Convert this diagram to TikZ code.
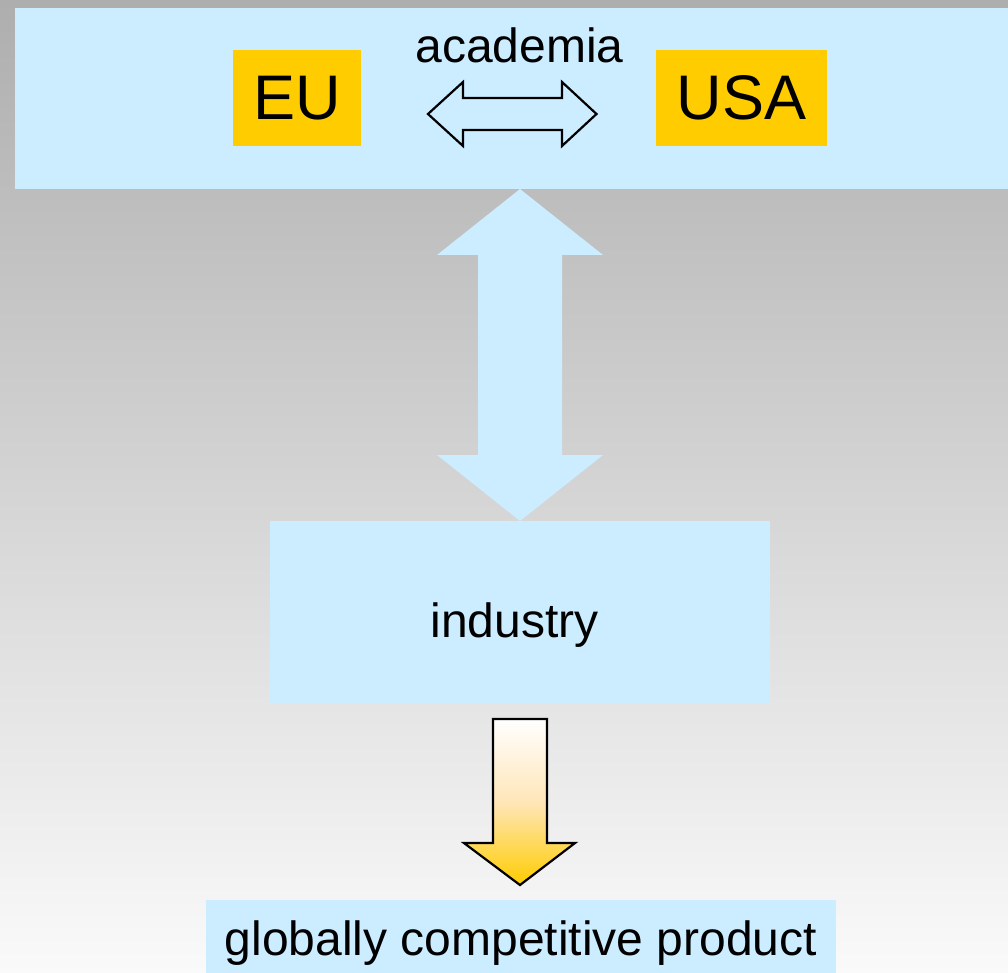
\documentclass[tikz,border=0pt]{standalone}
\usepackage{fontspec}
\setmainfont{Liberation Sans}
\usetikzlibrary{calc}
\definecolor{bgtop}{HTML}{AEAEAE}
\definecolor{bgbot}{HTML}{FAFAFA}
\definecolor{lblue}{HTML}{CCECFF}
\definecolor{gold}{HTML}{FFCC00}
\definecolor{peach}{HTML}{FFE6B8}
\begin{document}
\begin{tikzpicture}[x=1pt,y=-1pt,
  panel/.style={fill=lblue, draw=none, inner sep=0pt, outer sep=0pt},
  tag/.style={fill=gold, draw=none, inner sep=0pt, outer sep=0pt, minimum height=96pt, font=\fontsize{63}{68}\selectfont},
  label/.style={font=\fontsize{48}{56}\selectfont, inner sep=0pt},
  outlinearrow/.style={draw=black, line width=2.2pt, line join=miter}]
\useasboundingbox (0,0) rectangle (1008,973);
\shade[top color=bgtop, bottom color=bgbot] (0,0) rectangle (1008,973);
% top band (academia)
\node[panel, minimum width=993pt, minimum height=181pt] (band) at (511.5,98.5) {};
\node[tag, minimum width=128pt] (eu) at (297,98) {EU};
\node[tag, minimum width=171pt] (usa) at (741.5,98) {USA};
\node[label, anchor=base] (acad) at (519.5,63) {academia};
% small outline double arrow between EU and USA
\coordinate (al) at (428,114);
\coordinate (ar) at (596.5,114);
\draw[outlinearrow, fill=lblue]
  (al) -- ($(al)+(35,-32)$) -- ($(al)+(35,-16)$) -- ($(ar)+(-34.5,-16)$) -- ($(ar)+(-34.5,-32)$)
  -- (ar) -- ($(ar)+(-34.5,32)$) -- ($(ar)+(-34.5,16)$) -- ($(al)+(35,16)$) -- ($(al)+(35,32)$) -- cycle;
% industry
\node[panel, minimum width=500pt, minimum height=182pt] (ind) at (520,612) {};
\node[label, anchor=base] (indtxt) at (514.5,637) {industry};
% product
\node[panel, anchor=north, minimum width=630pt, text height=55pt, text depth=18pt, font=\fontsize{48}{56}\selectfont] (prod) at (521,900) {globally competitive product};
% big double arrow academia <-> industry
\coordinate (bt) at (band.south -| ind.north);
\coordinate (bb) at (ind.north);
\fill[lblue]
  (bt) -- ($(bt)+(83,66)$) -- ($(bt)+(42,66)$) -- ($(bb)+(42,-66)$) -- ($(bb)+(83,-66)$)
  -- (bb) -- ($(bb)+(-83,-66)$) -- ($(bb)+(-42,-66)$) -- ($(bt)+(-42,66)$) -- ($(bt)+(-83,66)$) -- cycle;
% yellow arrow industry -> product
\coordinate (yt) at ($(ind.south)+(0,16)$);
\coordinate (yb) at ($(prod.north)+(-1,-15)$);
\draw[outlinearrow, top color=white, bottom color=gold, middle color=peach]
  ($(yt)+(-27,0)$) -- ($(yt)+(27,0)$) -- ($(yb)+(27,-42)$) -- ($(yb)+(55,-42)$) -- (yb)
  -- ($(yb)+(-56,-42)$) -- ($(yb)+(-27,-42)$) -- cycle;
\end{tikzpicture}
\end{document}
